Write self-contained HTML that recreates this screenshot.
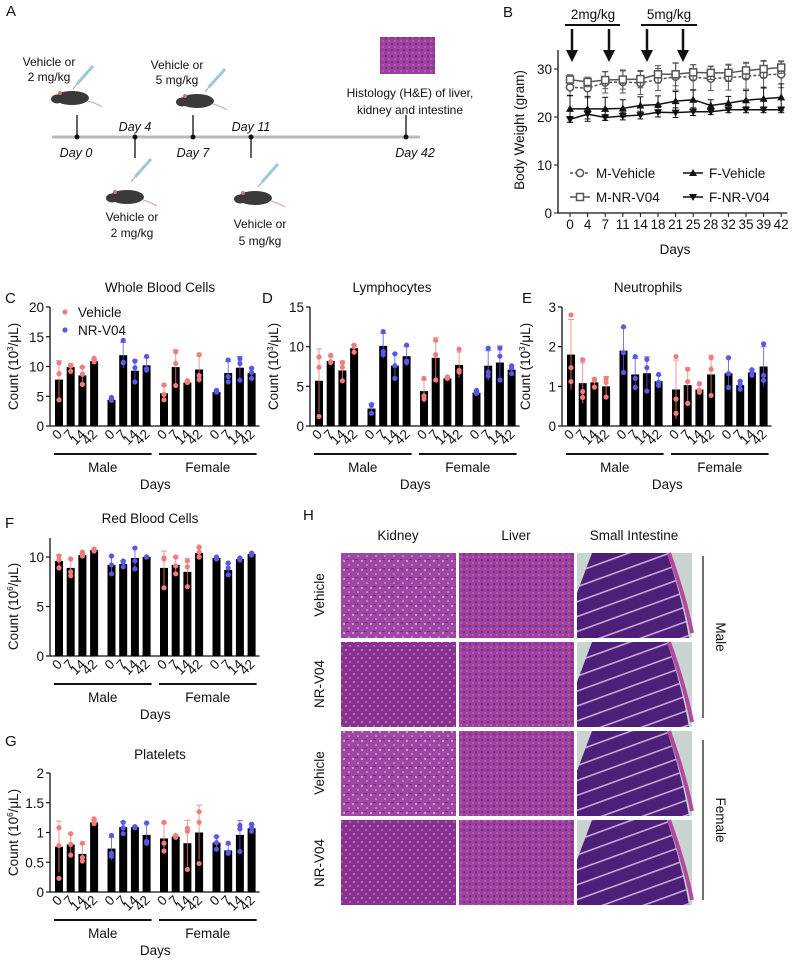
<!DOCTYPE html>
<html><head><meta charset="utf-8"><style>
body{margin:0;background:#fff}
svg{display:block;font-family:"Liberation Sans",sans-serif}
.t{font-size:13.5px;fill:#111}
.s{font-size:12px;fill:#111}
.it{font-size:12.5px;font-style:italic;fill:#111}
</style></head><body>
<div style="position:relative;width:792px;height:960px">
<svg id="fig" width="792" height="960" viewBox="0 0 792 960">
<defs>
<pattern id="kid" width="9" height="9" patternUnits="userSpaceOnUse"><rect width="9" height="9" fill="#a046a4"/><circle cx="2" cy="3" r="1" fill="#c9b6d8"/><circle cx="7" cy="7" r="0.8" fill="#d8c8e0"/><rect x="4" y="1" width="3" height="1" fill="#7a2a80"/></pattern>
<pattern id="kid2" width="8" height="8" patternUnits="userSpaceOnUse"><rect width="8" height="8" fill="#8a3090"/><circle cx="2" cy="2" r="0.9" fill="#c2a8d4"/><circle cx="6" cy="6" r="0.7" fill="#d0bcdc"/></pattern>
<pattern id="liv" width="6" height="6" patternUnits="userSpaceOnUse"><rect width="6" height="6" fill="#a0409e"/><circle cx="2" cy="2" r="0.8" fill="#4a1f6a"/><circle cx="5" cy="5" r="0.6" fill="#d3a8d6"/></pattern>
<pattern id="vil" width="14" height="14" patternUnits="userSpaceOnUse" patternTransform="rotate(-20)"><rect width="14" height="14" fill="#4d1f78"/><rect y="6" width="14" height="1.6" fill="#c8a8da"/></pattern>
</defs>
<g id="panelA">
<text x="6" y="16" font-size="15" fill="#111">A</text>
<line x1="52" y1="137" x2="420" y2="137" stroke="#bbb" stroke-width="3"/>
<g stroke="#111" stroke-width="1.3">
<line x1="77" y1="115" x2="77" y2="137"/><line x1="135" y1="137" x2="135" y2="158"/><line x1="193" y1="115" x2="193" y2="137"/><line x1="251" y1="137" x2="251" y2="158"/><line x1="406" y1="115" x2="406" y2="137"/></g>
<g fill="#111"><circle cx="77" cy="137" r="2.5"/><circle cx="135" cy="137" r="2.5"/><circle cx="193" cy="137" r="2.5"/><circle cx="251" cy="137" r="2.5"/><circle cx="406" cy="137" r="2.5"/></g>
<text class="it" x="76" y="157" text-anchor="middle">Day 0</text>
<text class="it" x="135" y="131" text-anchor="middle">Day 4</text>
<text class="it" x="193" y="157" text-anchor="middle">Day 7</text>
<text class="it" x="251" y="131" text-anchor="middle">Day 11</text>
<text class="it" x="415" y="157" text-anchor="middle">Day 42</text>
<text class="s" x="49" y="66" text-anchor="middle">Vehicle or</text><text class="s" x="49" y="81" text-anchor="middle">2 mg/kg</text>
<text class="s" x="177" y="69" text-anchor="middle">Vehicle or</text><text class="s" x="177" y="84" text-anchor="middle">5 mg/kg</text>
<text class="s" x="132" y="221" text-anchor="middle">Vehicle or</text><text class="s" x="132" y="237" text-anchor="middle">2 mg/kg</text>
<text class="s" x="260" y="228" text-anchor="middle">Vehicle or</text><text class="s" x="260" y="245" text-anchor="middle">5 mg/kg</text>
<text class="s" x="410" y="97" text-anchor="middle">Histology (H&amp;E) of liver,</text><text class="s" x="410" y="114" text-anchor="middle">kidney and intestine</text>
<rect x="380" y="37" width="55" height="37" fill="url(#liv)"/>
<g id="mice"></g>
</g>
<g id="panelB"></g>
<g id="bars"></g>
<g id="panelH">
<text x="303" y="520" font-size="15" fill="#111">H</text>
<text class="t" x="398" y="540" text-anchor="middle">Kidney</text>
<text class="t" x="516" y="540" text-anchor="middle">Liver</text>
<text class="t" x="634" y="540" text-anchor="middle">Small Intestine</text>
<g id="himgs"></g>
<text class="t" transform="translate(324,595) rotate(-90)" text-anchor="middle">Vehicle</text>
<text class="t" transform="translate(324,684) rotate(-90)" text-anchor="middle">NR-V04</text>
<text class="t" transform="translate(324,773) rotate(-90)" text-anchor="middle">Vehicle</text>
<text class="t" transform="translate(324,863) rotate(-90)" text-anchor="middle">NR-V04</text>
<line x1="703" y1="556" x2="703" y2="718" stroke="#111" stroke-width="1.2"/>
<line x1="703" y1="740" x2="703" y2="900" stroke="#111" stroke-width="1.2"/>
<text class="t" transform="translate(716,637) rotate(90)" text-anchor="middle">Male</text>
<text class="t" transform="translate(716,820) rotate(90)" text-anchor="middle">Female</text>
</g>
</svg>
</div>
<script>
// ---------- Panel B data ----------
const bwDays = ["0","4","7","11","14","18","21","25","28","32","35","39","42"];
const bwMVeh = [26.2,26.0,27.2,27.3,27.1,27.8,28.4,28.3,28.0,28.2,28.5,28.8,28.9];
const bwMNR  = [27.8,27.3,27.7,27.8,27.9,28.9,28.9,29.3,29.2,29.2,29.7,30.0,30.3];
const bwFVeh = [21.7,21.7,21.7,21.8,22.4,22.6,23.3,23.6,22.4,22.9,23.5,23.8,24.1];
const bwFNR  = [19.5,20.6,19.9,20.2,20.4,21.0,20.9,21.1,21.1,21.5,21.5,21.5,21.5];
const bwMVehErr = [1.8,2.0,2.2,2.3,2.4,2.3,2.8,2.6,2.5,2.6,2.7,2.8,2.8];
const bwMNRErr  = [1.0,1.0,1.8,2.0,1.8,1.8,2.4,1.6,1.4,1.8,1.7,1.8,1.2];
const bwFVehErr = [2.8,2.6,2.4,1.8,1.8,1.8,2.0,2.0,1.2,1.4,2.0,2.4,2.8];
const bwFNRErr  = [0.6,1.0,0.6,0.8,0.8,1.0,1.0,0.8,0.6,0.6,0.6,0.6,0.6];
const bwYTicks = [0,10,20,30];
// ---------- Bar chart data ----------
const dayLabels = ["0","7","14","42"];
const wbcMeans = [7.8,9.9,8.5,10.9, 4.4,11.9,9.3,10.2, 5.5,9.9,7.3,9.5, 5.7,8.9,9.8,8.9];
const wbcPoints = [[10.6,8.8,4.4],[10.2,10.1,9.2],[9.9,8.7,7.0],[11.4,11,10.8],[4.8,4.5,4.3],[14.4,10.6,10.7],[10.9,9.8,7.4],[11.7,9.6,9.4],[6.9,5.3,4.4],[12.5,10.5,6.8],[7.6,7.4,7.3],[12,8.5,7.8],[6.0,5.9,5.7],[11.1,8.3,7.4],[11.3,10.5,7.7],[9.7,9.0,8.0]];
const lymMeans = [5.7,8.2,7.0,9.8, 2.2,10.1,7.6,8.8, 4.4,8.6,6.0,7.7, 4.2,7.6,8.0,7.1];
const lymPoints = [[8.7,7.4,1.2],[8.9,8.1,8.0],[8.0,7.4,5.7],[10.2,10.0,9.3],[2.7,2.6,1.6],[11.9,9.4,9.0],[9.1,7.6,6.0],[10.2,8.2,8.0],[6.0,3.8,3.4],[10.8,9.0,5.8],[6.2,6.1,6.0],[9.7,7.0,6.8],[4.5,4.3,4.1],[9.8,6.8,6.3],[9.8,8.8,5.8],[7.6,7.3,6.6]];
const neuMeans = [1.8,1.08,1.1,1.0, 1.9,1.3,1.33,1.13, 0.92,1.03,0.92,1.3, 1.33,1.03,1.35,1.5];
const neuPoints = [[2.8,1.47,1.12],[1.67,0.87,0.72],[1.18,1.15,0.98],[1.2,1.1,0.73],[2.5,1.85,1.35],[1.75,1.2,0.97],[1.68,1.47,0.88],[1.3,1.1,1.02],[1.75,0.68,0.32],[1.43,1.12,0.57],[1.07,0.9,0.85],[1.72,1.43,0.77],[1.72,1.32,0.97],[1.13,1.05,0.93],[1.42,1.35,1.28],[2.07,1.28,1.15]];
const rbcMeans = [9.6,8.9,10.2,10.7, 9.2,9.3,9.9,10.0, 8.9,9.2,8.5,10.4, 9.9,8.7,9.8,10.3];
const rbcPoints = [[10.1,9.7,8.9],[9.8,8.5,8.1],[10.5,10.3,10.1],[10.8,10.7,10.6],[10.1,9.2,8.3],[9.6,9.5,9.0],[10.9,9.6,8.8],[10.0,10.0,10.0],[9.9,9.8,6.9],[10.0,9.1,8.3],[9.6,9.0,7.0],[11.0,10.5,10.0],[10.0,9.9,9.8],[9.4,8.9,8.2],[9.9,9.8,9.7],[10.4,10.3,10.2]];
const pltMeans = [0.76,0.8,0.64,1.17, 0.73,1.09,1.09,0.96, 0.9,0.93,0.82,1.0, 0.83,0.7,0.96,1.07];
const pltPoints = [[1.08,0.78,0.23],[0.98,0.8,0.62],[0.82,0.58,0.52],[1.23,1.2,1.15],[0.95,0.65,0.6],[1.17,1.08,0.98],[1.1,1.09,1.08],[1.16,0.85,0.82],[1.17,0.82,0.69],[0.95,0.94,0.92],[1.07,1.02,0.38],[1.35,1.17,0.48],[0.93,0.83,0.72],[0.82,0.67,0.65],[1.12,1.06,0.68],[1.14,1.08,1.02]];
const wbcTicks = [0,5,10,15,20];
const lymTicks = [0,5,10,15];
const neuTicks = [0,1,2,3];
const rbcTicks = [0,5,10];
const pltTicks = [0,0.5,1,1.5,2];
const pltTickLabels = ["0","0.5","1","1.5","2"];

const NS="http://www.w3.org/2000/svg";
function mk(tag,attrs,parent,txt){const e=document.createElementNS(NS,tag);for(const k in attrs)e.setAttribute(k,attrs[k]);if(txt!==undefined)e.textContent=txt;parent.appendChild(e);return e;}
const PINK="#f27b7b", BLUE="#5858e6";

function barChart(o){
  const g=mk('g',{},document.getElementById('bars'));
  
  
  const ax=o.ax,y0=o.y0,ytop=o.ytop,ymax=o.ymax;
  const ys=v=>y0-(v/ymax)*(y0-ytop);
  const xs=(gi,i)=>ax+9+gi*52.5+i*11.7;
  mk('text',{x:o.lx,y:o.ly,'font-size':15,fill:'#111'},g,o.letter);
  mk('text',{class:'t',x:o.tx,y:o.ty,'text-anchor':'middle'},g,o.title);
  const axEnd=xs(3,3)+8;
  mk('line',{x1:ax,y1:o.axTop,x2:ax,y2:y0,stroke:'#111','stroke-width':1.3},g);
  mk('line',{x1:ax,y1:y0,x2:axEnd,y2:y0,stroke:'#111','stroke-width':1.3},g);
  o.ticks.forEach((t,k)=>{const y=ys(t);mk('line',{x1:ax-4,y1:y,x2:ax,y2:y,stroke:'#111','stroke-width':1.2},g);
    mk('text',{class:'t',x:ax-6,y:y+5,'text-anchor':'end','font-size':14},g,o.tickLabels?o.tickLabels[k]:String(t));});
  mk('text',{class:'t',transform:`translate(${ax-32},${(y0+ytop)/2}) rotate(-90)`,'text-anchor':'middle','font-size':14},g).innerHTML=o.ytitle;
  for(let gi=0;gi<4;gi++)for(let i=0;i<4;i++){
    const idx=gi*4+i,cx=xs(gi,i),m=o.means[idx],pts=o.pts[idx],col=(gi%2)?BLUE:PINK;
    const b=mk('rect',{x:cx-4,y:ys(m),width:8,height:y0-ys(m),fill:'#000'},g);
    
    
    const mean=pts.reduce((a,b)=>a+b,0)/pts.length;
    const sd=Math.sqrt(pts.reduce((a,b)=>a+(b-mean)*(b-mean),0)/(pts.length-1));
    const yh=ys(m+sd),yl=ys(Math.max(0,m-sd));
    mk('line',{x1:cx,y1:yh,x2:cx,y2:yl,stroke:col,'stroke-width':1,opacity:0.8},g);
    mk('line',{x1:cx-3,y1:yh,x2:cx+3,y2:yh,stroke:col,'stroke-width':1,opacity:0.8},g);
    pts.forEach(p=>{const c=mk('circle',{cx:cx,cy:ys(p),r:2.6,fill:col},g);
      
      });
    mk('text',{class:'t',transform:`translate(${cx+4},${y0+9}) rotate(-45)`,'text-anchor':'end','font-size':14},g,dayLabels[i]);
  }
  mk('line',{x1:xs(0,0)-5,y1:y0+28,x2:xs(1,3)+5,y2:y0+28,stroke:'#111','stroke-width':2},g);
  mk('line',{x1:xs(2,0)-5,y1:y0+28,x2:xs(3,3)+5,y2:y0+28,stroke:'#111','stroke-width':2},g);
  mk('text',{class:'t',x:(xs(0,0)+xs(1,3))/2,y:y0+46,'text-anchor':'middle','font-size':14},g,'Male');
  mk('text',{class:'t',x:(xs(2,0)+xs(3,3))/2,y:y0+46,'text-anchor':'middle','font-size':14},g,'Female');
  mk('text',{class:'t',x:(xs(0,0)+xs(3,3))/2,y:y0+63,'text-anchor':'middle','font-size':14},g,'Days');
  return g;
}
const T3='Count (10<tspan font-size="8" dy="-5">3</tspan><tspan dy="5">/μL)</tspan>';
const T6='Count (10<tspan font-size="8" dy="-5">6</tspan><tspan dy="5">/μL)</tspan>';
const gc=barChart({name:'panel-c-wbc',letter:'C',lx:5,ly:303,title:'Whole Blood Cells',tx:160,ty:292,ax:50,y0:426,ytop:307,axTop:307,ymax:20,ticks:wbcTicks,means:wbcMeans,pts:wbcPoints,ytitle:T3});
mk('circle',{cx:65,cy:312,r:2.6,fill:PINK},gc);mk('text',{class:'t',x:78,y:317,'font-size':14},gc,'Vehicle');
mk('circle',{cx:65,cy:330,r:2.6,fill:BLUE},gc);mk('text',{class:'t',x:78,y:335,'font-size':14},gc,'NR-V04');
barChart({name:'panel-d-lymphocytes',letter:'D',lx:262,ly:303,title:'Lymphocytes',tx:392,ty:292,ax:310,y0:426,ytop:307,axTop:307,ymax:15,ticks:lymTicks,means:lymMeans,pts:lymPoints,ytitle:T3});
barChart({name:'panel-e-neutrophils',letter:'E',lx:522,ly:303,title:'Neutrophils',tx:648,ty:292,ax:562,y0:426,ytop:307,axTop:307,ymax:3,ticks:neuTicks,means:neuMeans,pts:neuPoints,ytitle:T3});
barChart({name:'panel-f-rbc',letter:'F',lx:5,ly:528,title:'Red Blood Cells',tx:150,ty:523,ax:50,y0:656,ytop:557,axTop:538,ymax:10,ticks:rbcTicks,means:rbcMeans,pts:rbcPoints,ytitle:T6});
barChart({name:'panel-g-platelets',letter:'G',lx:5,ly:746,title:'Platelets',tx:160,ty:759,ax:50,y0:892,ytop:773,axTop:773,ymax:2,ticks:pltTicks,tickLabels:pltTickLabels,means:pltMeans,pts:pltPoints,ytitle:T6});

// ---------- Panel B ----------
(function(){
  const g=document.getElementById('panelB');
  const ax=558,y0=213,pxu=4.8;
  const ys=v=>y0-v*pxu, xs=i=>570+i*17.6;
  mk('text',{x:503,y:17,'font-size':15,fill:'#111'},g,'B');
  mk('line',{x1:ax,y1:50,x2:ax,y2:y0,stroke:'#111','stroke-width':1.3},g);
  mk('line',{x1:ax,y1:y0,x2:xs(12)+6,y2:y0,stroke:'#111','stroke-width':1.3},g);
  bwYTicks.forEach(t=>{mk('line',{x1:ax-4,y1:ys(t),x2:ax,y2:ys(t),stroke:'#111'},g);mk('text',{class:'t',x:ax-6,y:ys(t)+5,'text-anchor':'end','font-size':14},g,String(t));});
  bwDays.forEach((d,i)=>{mk('line',{x1:xs(i),y1:y0,x2:xs(i),y2:y0+4,stroke:'#111'},g);mk('text',{class:'t',x:xs(i),y:y0+16,'text-anchor':'middle','font-size':12.5},g,d);});
  mk('text',{class:'t',x:675,y:254,'text-anchor':'middle','font-size':14},g,'Days');
  mk('text',{class:'t',transform:'translate(524,130) rotate(-90)','text-anchor':'middle','font-size':14},g,'Body Weight (gram)');
  const series=[[bwMVeh,bwMVehErr,'#555','3,2','circle'],[bwMNR,bwMNRErr,'#555','','square'],[bwFVeh,bwFVehErr,'#111','','tri'],[bwFNR,bwFNRErr,'#111','','tridown']];
  function marker(type,x,y,col,par){
    if(type==='circle')return mk('circle',{cx:x,cy:y,r:3.6,fill:'#fff',stroke:col,'stroke-width':1.5},par);
    if(type==='square')return mk('rect',{x:x-3.5,y:y-3.5,width:7,height:7,fill:'#fff',stroke:col,'stroke-width':1.5},par);
    if(type==='tri')return mk('path',{d:`M${x} ${y-4}L${x+4} ${y+3}L${x-4} ${y+3}Z`,fill:col},par);
    return mk('path',{d:`M${x} ${y+4}L${x+4} ${y-3}L${x-4} ${y-3}Z`,fill:col},par);
  }
  series.forEach(([vals,err,col,dash,type])=>{
    vals.forEach((v,i)=>{const x=xs(i);mk('line',{x1:x,y1:ys(v+err[i]),x2:x,y2:ys(v-err[i]),stroke:col,'stroke-width':1},g);
      mk('line',{x1:x-3,y1:ys(v+err[i]),x2:x+3,y2:ys(v+err[i]),stroke:col},g);mk('line',{x1:x-3,y1:ys(v-err[i]),x2:x+3,y2:ys(v-err[i]),stroke:col},g);});
    const l=mk('polyline',{points:vals.map((v,i)=>xs(i)+','+ys(v)).join(' '),fill:'none',stroke:col,'stroke-width':1.5,'stroke-dasharray':dash},g);
    
    
    vals.forEach((v,i)=>{const m=marker(type,xs(i),ys(v),col,g);
      
      });
  });
  const leg=[[570,173,'circle','#555','3,2','M-Vehicle'],[570,197,'square','#555','','M-NR-V04'],[683,173,'tri','#111','','F-Vehicle'],[683,197,'tridown','#111','','F-NR-V04']];
  leg.forEach(([x,y,t,c,d,lab])=>{mk('line',{x1:x,y1:y,x2:x+20,y2:y,stroke:c,'stroke-width':1.5,'stroke-dasharray':d},g);marker(t,x+10,y,c,g);
    const tx=mk('text',{class:'t',x:x+26,y:y+5,'font-size':14},g,lab);
    
    });
  mk('line',{x1:565,y1:25,x2:620,y2:25,stroke:'#111','stroke-width':2},g);
  mk('line',{x1:641,y1:25,x2:697,y2:25,stroke:'#111','stroke-width':2},g);
  mk('text',{class:'t',x:593,y:19,'text-anchor':'middle','font-size':14},g,'2mg/kg');
  mk('text',{class:'t',x:669,y:19,'text-anchor':'middle','font-size':14},g,'5mg/kg');
  [572,609,647,683].forEach(x=>{mk('line',{x1:x,y1:29,x2:x,y2:52,stroke:'#111','stroke-width':2.5},g);mk('path',{d:`M${x-6} 50L${x+6} 50L${x} 62Z`,fill:'#111'},g);});
})();

// ---------- Mice & syringes (panel A) ----------
(function(){
  const g=document.getElementById('mice');
  [[72,98],[197,101],[127,197],[255,198]].forEach(([x,y])=>{
    mk('ellipse',{cx:x,cy:y,rx:17,ry:7,fill:'#3a3a3a'},g);
    mk('ellipse',{cx:x-15,cy:y+1,rx:6,ry:4.5,fill:'#3a3a3a'},g);
    mk('circle',{cx:x-12,cy:y-5,r:2,fill:'#c77'},g);
    mk('path',{d:`M${x+16} ${y+3} Q${x+26} ${y+6} ${x+30} ${y+9}`,fill:'none',stroke:'#d9a0a0','stroke-width':1},g);
  });
  [[85,72],[217,75],[143,165],[270,170]].forEach(([x,y])=>{
    mk('line',{x1:x-8,y1:y+12,x2:x+8,y2:y-6,stroke:'#9cc9d3','stroke-width':3},g);
    mk('line',{x1:x-8,y1:y+12,x2:x-12,y2:y+17,stroke:'#999','stroke-width':1},g);
  });
})();

// ---------- Histology images (panel H) ----------
(function(){
  const g=document.getElementById('himgs');
  const cols=[341,459,577], rows=[553,642,731,820];
  const kfills=['url(#kid)','url(#kid2)','url(#kid)','url(#kid2)'];
  rows.forEach((y,r)=>{
    mk('rect',{x:cols[0],y:y,width:115,height:85,fill:kfills[r]},g);
    mk('rect',{x:cols[1],y:y,width:115,height:85,fill:'url(#liv)'},g);
    mk('rect',{x:cols[2],y:y,width:115,height:85,fill:'#c9d3cf'},g);
    mk('path',{d:`M${cols[2]+15} ${y} L${cols[2]+90} ${y} Q${cols[2]+105} ${y+45} ${cols[2]+112} ${y+85} L${cols[2]} ${y+85} L${cols[2]} ${y+40} Z`,fill:'url(#vil)'},g);
    mk('path',{d:`M${cols[2]+92} ${y} Q${cols[2]+108} ${y+45} ${cols[2]+115} ${y+80}`,fill:'none',stroke:'#b04a9c','stroke-width':4},g);
  });
})();
</script>
</body></html>
